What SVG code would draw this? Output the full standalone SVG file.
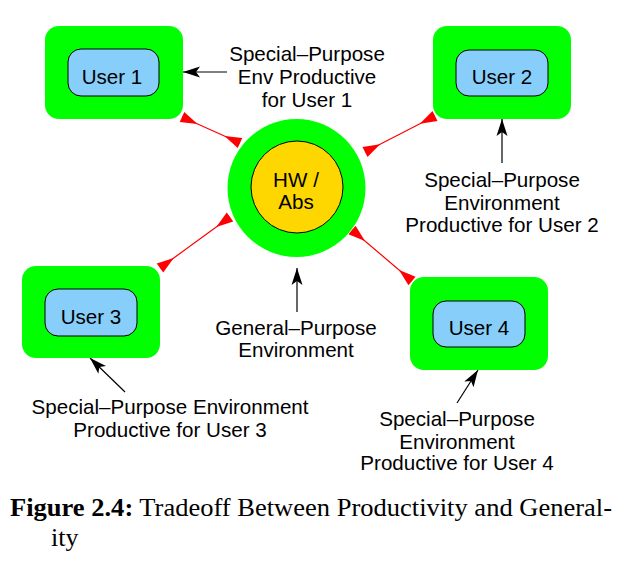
<svg xmlns="http://www.w3.org/2000/svg" width="630" height="582" viewBox="0 0 630 582">
<style>
.outer{fill:#00ff00;stroke:none}
.inner{fill:#87cefa;stroke:#000;stroke-width:1}
.lbl{font-family:"Liberation Sans",Arial,sans-serif;font-size:20.6px;fill:#000;text-anchor:middle}
.red{stroke:#ff0000;stroke-width:1.2;fill:none;marker-start:url(#rh);marker-end:url(#rh)}
.blk{stroke:#000;stroke-width:1.2;fill:none;marker-end:url(#bh)}
.cap{font-family:"Liberation Serif","Times New Roman",serif;font-size:26px;fill:#000}
</style>
<defs>
<marker id="rh" markerUnits="userSpaceOnUse" viewBox="-18 -7 19 14" refX="0" refY="0" markerWidth="19" markerHeight="14" orient="auto-start-reverse">
<path d="M0,-5.5 L-17,0 L0,5.5 Z" fill="#ff0000"/>
</marker>
<marker id="bh" markerUnits="userSpaceOnUse" viewBox="-18 -7 19 14" refX="0" refY="0" markerWidth="19" markerHeight="14" orient="auto">
<path d="M0,0 L-17,-5.5 L-13,0 L-17,5.5 Z" fill="#000"/>
</marker>
</defs>
<rect width="630" height="582" fill="#fff"/>
<g id="connectors">
<line class="red" x1="182" y1="117" x2="240" y2="143"/>
<line class="red" x1="435" y1="116" x2="365" y2="152"/>
<line class="red" x1="160" y1="268" x2="230" y2="217"/>
<line class="red" x1="412" y1="281" x2="352" y2="230"/>
<line class="blk" x1="227" y1="72" x2="183" y2="72"/>
<line class="blk" x1="502" y1="163" x2="502" y2="119"/>
<line class="blk" x1="297" y1="312" x2="297" y2="268"/>
<line class="blk" x1="125" y1="392" x2="90" y2="358"/>
<line class="blk" x1="457" y1="403" x2="478" y2="370"/>
</g>
<g id="hw">
<circle cx="296.5" cy="188" r="69" fill="#00ff00"/>
<circle cx="297" cy="187" r="46" fill="#ffd700" stroke="#000" stroke-width="1"/>
<text class="lbl" x="296" y="187">HW /</text>
<text class="lbl" x="296" y="209">Abs</text>
</g>
<g id="user1">
<rect class="outer" x="45" y="26" width="138" height="93" rx="14"/>
<rect class="inner" x="68" y="49" width="91" height="47" rx="13"/>
<text class="lbl" x="112" y="84">User 1</text>
</g>
<g id="user2">
<rect class="outer" x="433" y="26" width="138" height="93" rx="14"/>
<rect class="inner" x="456" y="50" width="92" height="46" rx="13"/>
<text class="lbl" x="502" y="84">User 2</text>
</g>
<g id="user3">
<rect class="outer" x="22" y="266" width="138" height="92" rx="14"/>
<rect class="inner" x="45" y="289" width="92" height="47" rx="13"/>
<text class="lbl" x="91" y="324">User 3</text>
</g>
<g id="user4">
<rect class="outer" x="410" y="277" width="138" height="93" rx="14"/>
<rect class="inner" x="433" y="301" width="92" height="46" rx="13"/>
<text class="lbl" x="479" y="335">User 4</text>
</g>
<g id="label1">
<text class="lbl" x="307" y="61">Special–Purpose</text>
<text class="lbl" x="307" y="84">Env Productive</text>
<text class="lbl" x="307" y="107">for User 1</text>
</g>
<g id="label2">
<text class="lbl" x="502" y="187">Special–Purpose</text>
<text class="lbl" x="502" y="210">Environment</text>
<text class="lbl" x="502" y="232">Productive for User 2</text>
</g>
<g id="label-general">
<text class="lbl" x="296" y="335">General–Purpose</text>
<text class="lbl" x="296" y="357">Environment</text>
</g>
<g id="label3">
<text class="lbl" x="170" y="414">Special–Purpose Environment</text>
<text class="lbl" x="170" y="437">Productive for User 3</text>
</g>
<g id="label4">
<text class="lbl" x="457" y="426">Special–Purpose</text>
<text class="lbl" x="457" y="449">Environment</text>
<text class="lbl" x="457" y="470">Productive for User 4</text>
</g>
<g id="caption">
<text class="cap" x="10" y="516" textLength="602" lengthAdjust="spacingAndGlyphs"><tspan font-weight="bold">Figure 2.4:</tspan> Tradeoff Between Productivity and General-</text>
<text class="cap" x="51" y="546">ity</text>
</g>
</svg>
